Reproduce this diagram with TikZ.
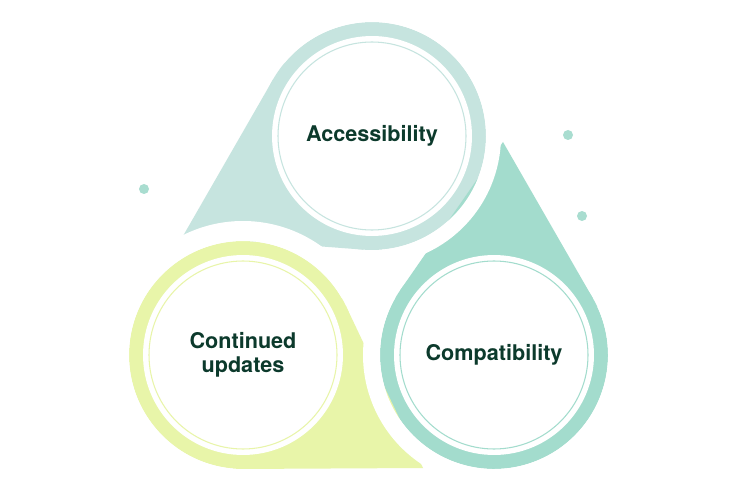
\documentclass[tikz,border=0pt]{standalone}
\usepackage{fontspec}
\setmainfont{TeX Gyre Heros}
\usetikzlibrary{calc}

\begin{document}
\begin{tikzpicture}[x=0.02cm,y=-0.02cm,
  band/.style={circle,inner sep=0pt,outer sep=0pt,minimum size=4.56cm},
  core/.style={circle,fill=white,inner sep=0pt,outer sep=0pt,minimum size=4cm,align=center,text=textgreen,font=\fontsize{12.3}{13.8}\selectfont\bfseries},
  ringline/.style={line width=.6pt},
  halo/.style={draw=white},
  dot/.style={circle,fill=dotteal,inner sep=0pt,outer sep=0pt,minimum size=0.2cm}]
\definecolor{accteal}{HTML}{C6E4DF}
\definecolor{compteal}{HTML}{A3DCCD}
\definecolor{updlime}{HTML}{E8F5A9}
\definecolor{dotteal}{HTML}{A9DDD0}
\definecolor{textgreen}{HTML}{0C3A2C}
\useasboundingbox[fill=white] (0,0) rectangle (740,493);
% outer bands
\node[band,fill=accteal] (accband) at (372,136) {};
\node[band,fill=compteal] (compband) at (494,355) {};
\node[band,fill=updlime] (updband) at (243,355) {};
% tails
\coordinate (acctip) at (183,236);
\coordinate (comptip) at (503,142);
\coordinate (updtip) at (423,468);
\fill[accteal] (acctip) -- (tangent cs:node=accband,point={(acctip)},solution=1) -- (accband.center) -- (tangent cs:node=accband,point={(acctip)},solution=2) -- cycle;
\fill[compteal] (comptip) -- (tangent cs:node=compband,point={(comptip)},solution=1) -- (compband.center) -- (tangent cs:node=compband,point={(comptip)},solution=2) -- cycle;
\fill[updlime] (updtip) -- (tangent cs:node=updband,point={(updtip)},solution=1) -- (updband.center) -- (tangent cs:node=updband,point={(updtip)},solution=2) -- cycle;
% white gaps cutting the neighbour tails
\draw[halo,line width=0.3cm] (accband.center) ++(-140:121.5) arc[start angle=-140,end angle=85,radius=121.5];
\draw[halo,line width=0.34cm] (compband.center) ++(-25:122.5) arc[start angle=-25,end angle=210,radius=122.5];
\draw[halo,line width=0.4cm] (updband.center) ++(95:124) arc[start angle=95,end angle=330,radius=124];
% inner discs
\node[core] (acc) at (accband.center) {Accessibility};
\node[core] (comp) at (compband.center) {Compatibility};
\node[core] (upd) at (updband.center) {Continued\\updates};
\draw[ringline,accteal] (acc.center) circle[radius=94];
\draw[ringline,compteal] (comp.center) circle[radius=94];
\draw[ringline,updlime] (upd.center) circle[radius=94];
% dots
\node[dot] (dota) at (568,135) {};
\node[dot] (dotb) at (582,216) {};
\node[dot] (dotc) at (144,189) {};
\end{tikzpicture}
\end{document}
